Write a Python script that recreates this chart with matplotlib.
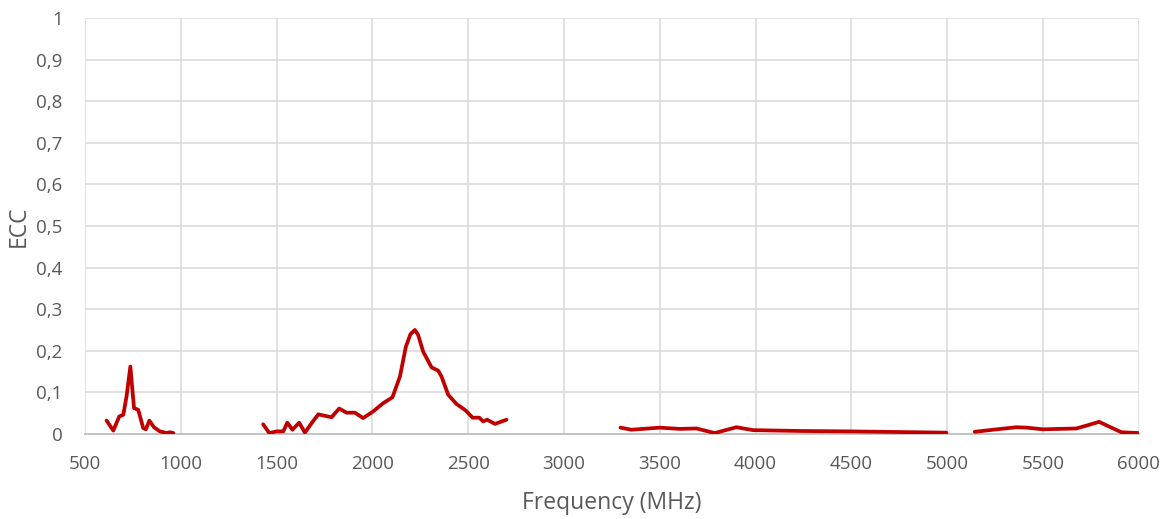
import matplotlib.pyplot as plt
from matplotlib.ticker import FuncFormatter

# ECC, four frequency bands (MHz)
f_band1 = [613, 648, 679, 700, 717, 737, 756, 778, 804, 818, 836, 860, 891, 926, 943, 961]
ecc_band1 = [0.032, 0.008, 0.042, 0.046, 0.09, 0.162, 0.062, 0.058, 0.014, 0.011, 0.032, 0.016, 0.006, 0.002, 0.004, 0.002]

f_band2 = [1430, 1462, 1500, 1535, 1556, 1583, 1618, 1648, 1683, 1718, 1787, 1827, 1865, 1909,
           1952, 2004, 2057, 2105, 2144, 2175, 2199, 2222, 2239, 2265, 2309, 2344, 2361, 2396,
           2439, 2488, 2523, 2558, 2578, 2599, 2640, 2700]
ecc_band2 = [0.023, 0.002, 0.006, 0.006, 0.027, 0.01, 0.027, 0.003, 0.026, 0.047, 0.04, 0.061, 0.051, 0.051,
             0.038, 0.054, 0.074, 0.088, 0.138, 0.21, 0.24, 0.25, 0.238, 0.198, 0.16, 0.152, 0.138, 0.094,
             0.072, 0.056, 0.039, 0.039, 0.03, 0.034, 0.024, 0.034]

f_band3 = [3295, 3352, 3500, 3604, 3692, 3787, 3900, 3987, 4231, 4492, 4996]
ecc_band3 = [0.015, 0.01, 0.015, 0.012, 0.013, 0.002, 0.016, 0.009, 0.007, 0.006, 0.003]

f_band4 = [5144, 5240, 5362, 5414, 5500, 5674, 5735, 5793, 5848, 5909, 6001]
ecc_band4 = [0.005, 0.01, 0.016, 0.015, 0.011, 0.013, 0.021, 0.029, 0.017, 0.004, 0.002]

plt.rcParams['font.family'] = ['Open Sans', 'DejaVu Sans']

fig = plt.figure(figsize=(11.67, 5.19), dpi=100)
ax = fig.add_axes([0.0728, 0.164, 0.903, 0.801])

red = '#c00000'
for f, e in [(f_band1, ecc_band1), (f_band2, ecc_band2), (f_band3, ecc_band3), (f_band4, ecc_band4)]:
    ax.plot(f, e, color=red, linewidth=2.7, solid_joinstyle='round', solid_capstyle='round', zorder=3)

ax.set_xlim(500, 6000)
ax.set_ylim(0, 1)
ax.set_xticks(range(500, 6001, 500))
ax.set_yticks([i / 10 for i in range(11)])
ax.yaxis.set_major_formatter(FuncFormatter(lambda v, p: ('%g' % round(v, 1)).replace('.', ',')))

ax.grid(True, color='#d9d9d9', linewidth=1.1)
ax.set_axisbelow(True)
for s in ['top', 'right', 'left']:
    ax.spines[s].set_visible(False)
ax.spines['bottom'].set_color('#bfbfbf')
ax.spines['bottom'].set_linewidth(1.3)
ax.tick_params(length=0, labelsize=13.5, colors='#595959')
ax.tick_params(axis='x', pad=15)
ax.tick_params(axis='y', pad=16)

ax.set_xlabel('Frequency (MHz)', fontsize=16.5, color='#595959', labelpad=13)
ax.set_ylabel('ECC', fontsize=16.5, color='#595959', labelpad=4)

fig.savefig('out.png', dpi=100)
